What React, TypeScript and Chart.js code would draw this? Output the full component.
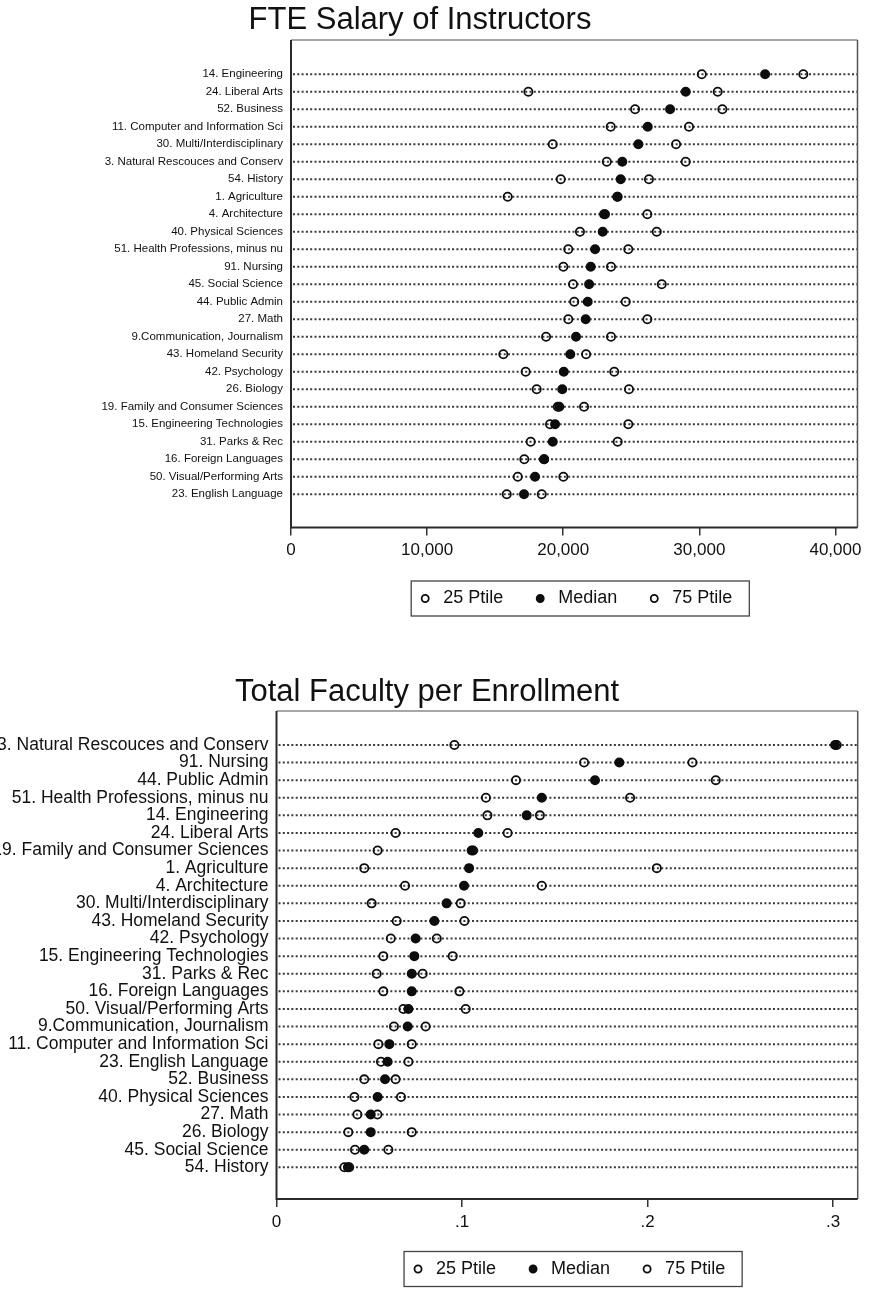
import React, { useEffect, useRef } from "react";
import { Chart, registerables } from "chart.js";

Chart.register(...registerables);

const FONT = "'Liberation Sans', Arial, Helvetica, sans-serif";

// ---------- Chart 1: FTE Salary of Instructors ----------
const salaryCategories = [
  "14. Engineering",
  "24. Liberal Arts",
  "52. Business",
  "11. Computer and Information Sci",
  "30. Multi/Interdisciplinary",
  "3. Natural Rescouces and Conserv",
  "54. History",
  "1. Agriculture",
  "4. Architecture",
  "40. Physical Sciences",
  "51. Health Professions, minus nu",
  "91. Nursing",
  "45. Social Science",
  "44. Public Admin",
  "27. Math",
  "9.Communication, Journalism",
  "43. Homeland Security",
  "42. Psychology",
  "26. Biology",
  "19. Family and Consumer Sciences",
  "15. Engineering Technologies",
  "31. Parks & Rec",
  "16. Foreign Languages",
  "50. Visual/Performing Arts",
  "23. English Language",
];
const salaryP25 = [
  30180, 17440, 25280, 23490, 19230, 23200, 19820, 15920, 23000, 21230, 20370, 20010, 20720,
  20810, 20370, 18740, 15600, 17240, 18050, 19600, 19030, 17610, 17140, 16660, 15850,
];
const salaryMedian = [
  34830, 29000, 27850, 26210, 25520, 24340, 24220, 23970, 23070, 22900, 22340, 22020, 21900,
  21800, 21650, 20940, 20520, 20040, 19930, 19710, 19400, 19230, 18590, 17930, 17120,
];
const salaryP75 = [
  37640, 31350, 31690, 29240, 28290, 29000, 26300, 24000, 26180, 26870, 24780, 23510, 27240,
  24590, 26180, 23510, 21680, 23750, 24830, 21530, 24780, 24000, 18600, 20010, 18420,
];
const salaryTickValues = [0, 10000, 20000, 30000, 40000];
const salaryTickLabels = ["0", "10,000", "20,000", "30,000", "40,000"];

// ---------- Chart 2: Total Faculty per Enrollment ----------
const facultyCategories = [
  "3. Natural Rescouces and Conserv",
  "91. Nursing",
  "44. Public Admin",
  "51. Health Professions, minus nu",
  "14. Engineering",
  "24. Liberal Arts",
  "19. Family and Consumer Sciences",
  "1. Agriculture",
  "4. Architecture",
  "30. Multi/Interdisciplinary",
  "43. Homeland Security",
  "42. Psychology",
  "15. Engineering Technologies",
  "31. Parks & Rec",
  "16. Foreign Languages",
  "50. Visual/Performing Arts",
  "9.Communication, Journalism",
  "11. Computer and Information Sci",
  "23. English Language",
  "52. Business",
  "40. Physical Sciences",
  "27. Math",
  "26. Biology",
  "45. Social Science",
  "54. History",
];
const facultyP25 = [
  0.0959, 0.1658, 0.1291, 0.1129, 0.1137, 0.0642, 0.0545, 0.0473, 0.0693, 0.0513, 0.0648,
  0.0616, 0.0576, 0.054, 0.0576, 0.0684, 0.0633, 0.0549, 0.0563, 0.0473, 0.042, 0.0436, 0.0387,
  0.0423, 0.0366,
];
const facultyMedian = [
  0.3011, 0.1848, 0.1717, 0.143, 0.1349, 0.1088, 0.1052, 0.1038, 0.1011, 0.0917, 0.0851, 0.075,
  0.0743, 0.0729, 0.0729, 0.0711, 0.0707, 0.0608, 0.0599, 0.0585, 0.0545, 0.0508, 0.0508,
  0.0473, 0.0385,
];
const facultyP75 = [
  0.302, 0.2242, 0.2368, 0.1906, 0.142, 0.1246, 0.106, 0.205, 0.143, 0.0993, 0.1013, 0.0864,
  0.095, 0.0788, 0.0986, 0.102, 0.0804, 0.0729, 0.0711, 0.0642, 0.0671, 0.0544, 0.0729, 0.0603,
  0.0392,
];
const facultyTickValues = [0, 0.1, 0.2, 0.3];
const facultyTickLabels = ["0", ".1", ".2", ".3"];

const seriesLabels = ["25 Ptile", "Median", "75 Ptile"];

type Spec = {
  title: string;
  titleX: number;
  titleY: number;
  titleSize: number;
  categories: string[];
  p25: number[];
  median: number[];
  p75: number[];
  tickValues: number[];
  tickLabels: string[];
  xMax: number;
  yMin: number;
  yMax: number;
  labelSize: number;
  width: number;
  height: number;
  padding: { left: number; right: number; top: number; bottom: number };
  yAxisWidth: number;
  xAxisHeight: number;
  dash: number[];
  dotWidth: number;
};

function buildConfig(s: Spec): any {
  const mk = (label: string, values: number[], filled: boolean, order: number) => ({
    label,
    data: values.map((v, i) => ({ x: v, y: i + 1 })),
    showLine: false,
    pointRadius: 4.1,
    pointBorderWidth: 1.8,
    pointBorderColor: "#0d0d0d",
    pointBackgroundColor: filled ? "#0d0d0d" : "rgba(0,0,0,0)",
    borderColor: "#0d0d0d",
    backgroundColor: filled ? "#0d0d0d" : "rgba(0,0,0,0)",
    borderWidth: 1.8,
    pointStyle: "circle",
    order,
  });

  const dottedLines = {
    id: "dottedLines",
    beforeDatasetsDraw(chart: any) {
      const { ctx, chartArea } = chart;
      const yScale = chart.scales.y;
      ctx.save();
      ctx.strokeStyle = "#3a3a3a";
      ctx.lineWidth = s.dotWidth;
      ctx.setLineDash(s.dash);
      s.categories.forEach((_, i) => {
        const y = yScale.getPixelForValue(i + 1);
        ctx.beginPath();
        ctx.moveTo(chartArea.left + 2, y);
        ctx.lineTo(chartArea.right, y);
        ctx.stroke();
      });
      ctx.restore();
    },
  };

  const frame = {
    id: "frame",
    afterDatasetsDraw(chart: any) {
      const { ctx, chartArea: a } = chart;
      ctx.save();
      ctx.setLineDash([]);
      ctx.lineWidth = 1.5;
      ctx.strokeStyle = "#8a8a8a";
      ctx.beginPath();
      ctx.moveTo(a.left, a.top);
      ctx.lineTo(a.right, a.top);
      ctx.stroke();
      ctx.strokeStyle = "#555";
      ctx.beginPath();
      ctx.moveTo(a.right, a.top);
      ctx.lineTo(a.right, a.bottom);
      ctx.stroke();
      ctx.lineWidth = 2;
      ctx.strokeStyle = "#2a2a2a";
      ctx.beginPath();
      ctx.moveTo(a.left, a.top);
      ctx.lineTo(a.left, a.bottom);
      ctx.lineTo(a.right, a.bottom);
      ctx.stroke();
      ctx.restore();
    },
  };

  const titlePlugin = {
    id: "stataTitle",
    afterDraw(chart: any) {
      const { ctx } = chart;
      ctx.save();
      ctx.font = `${s.titleSize}px ${FONT}`;
      ctx.fillStyle = "#111";
      ctx.textAlign = "center";
      ctx.textBaseline = "alphabetic";
      ctx.fillText(s.title, s.titleX, s.titleY);
      ctx.restore();
    },
  };

  const legendBox = {
    id: "legendBox",
    afterDraw(chart: any) {
      const lg = chart.legend;
      if (!lg || !lg.legendHitBoxes || !lg.legendHitBoxes.length) return;
      const hb = lg.legendHitBoxes;
      const first = hb[0];
      const last = hb[hb.length - 1];
      const left = first.left - 5;
      const right = last.left + last.width + 17;
      const cy = first.top + first.height / 2;
      const { ctx } = chart;
      ctx.save();
      ctx.setLineDash([]);
      ctx.lineWidth = 1.3;
      ctx.strokeStyle = "#444";
      ctx.strokeRect(left, cy - 17.5, right - left, 35);
      ctx.restore();
    },
  };

  return {
    type: "scatter",
    data: {
      datasets: [
        mk(seriesLabels[0], s.p25, false, 3),
        mk(seriesLabels[1], s.median, true, 2),
        mk(seriesLabels[2], s.p75, false, 1),
      ],
    },
    options: {
      animation: false,
      responsive: false,
      events: [],
      layout: { padding: s.padding, autoPadding: false },
      scales: {
        x: {
          type: "linear",
          min: 0,
          max: s.xMax,
          afterBuildTicks: (axis: any) => {
            axis.ticks = s.tickValues.map((v) => ({ value: v }));
          },
          afterFit: (axis: any) => {
            axis.height = s.xAxisHeight;
          },
          grid: {
            display: true,
            drawOnChartArea: false,
            drawTicks: true,
            tickLength: 8,
            color: "#333",
            lineWidth: 1.5,
          },
          border: { display: false },
          ticks: {
            autoSkip: false,
            maxRotation: 0,
            padding: 5,
            color: "#111",
            font: { size: 17, family: FONT },
            callback: (_v: any, i: number) => s.tickLabels[i],
          },
        },
        y: {
          type: "linear",
          reverse: true,
          min: s.yMin,
          max: s.yMax,
          afterBuildTicks: (axis: any) => {
            axis.ticks = s.categories.map((_, i) => ({ value: i + 1 }));
          },
          afterFit: (axis: any) => {
            axis.width = s.yAxisWidth;
          },
          grid: { display: false, drawTicks: false },
          border: { display: false },
          ticks: {
            autoSkip: false,
            padding: 8,
            color: "#111",
            font: { size: s.labelSize, family: FONT },
            callback: (v: any) => s.categories[Math.round(Number(v)) - 1] ?? "",
          },
        },
      },
      plugins: {
        title: { display: false },
        tooltip: { enabled: false },
        legend: {
          display: true,
          position: "bottom",
          fullSize: false,
          align: "center",
          labels: {
            usePointStyle: true,
            boxWidth: 18,
            boxHeight: 5,
            padding: 28,
            color: "#111",
            font: { size: 18, family: FONT },
            sort: (a: any, b: any) => a.datasetIndex - b.datasetIndex,
          },
        },
      },
    },
    plugins: [dottedLines, frame, titlePlugin, legendBox],
  };
}

function DotChart({ spec, top }: { spec: Spec; top: number }) {
  const ref = useRef<HTMLCanvasElement | null>(null);
  useEffect(() => {
    if (!ref.current) return;
    const chart = new Chart(ref.current, buildConfig(spec));
    return () => chart.destroy();
  }, [spec]);
  return (
    <div style={{ position: "absolute", left: 0, top, width: spec.width, height: spec.height }}>
      <canvas
        ref={ref}
        width={spec.width}
        height={spec.height}
        style={{ width: spec.width, height: spec.height, display: "block" }}
      />
    </div>
  );
}

const salarySpec: Spec = {
  title: "FTE Salary of Instructors",
  titleX: 420,
  titleY: 29,
  titleSize: 31,
  categories: salaryCategories,
  p25: salaryP25,
  median: salaryMedian,
  p75: salaryP75,
  tickValues: salaryTickValues,
  tickLabels: salaryTickLabels,
  xMax: 41620,
  yMin: 1 - 1.96,
  yMax: 25 + 1.9,
  labelSize: 11.5,
  width: 873,
  height: 640,
  padding: { left: 0, right: 15.5, top: 40, bottom: 22.5 },
  yAxisWidth: 291,
  xAxisHeight: 34,
  dash: [2, 2.3],
  dotWidth: 2,
};

const facultySpec: Spec = {
  title: "Total Faculty per Enrollment",
  titleX: 427,
  titleY: 61,
  titleSize: 31,
  categories: facultyCategories,
  p25: facultyP25,
  median: facultyMedian,
  p75: facultyP75,
  tickValues: facultyTickValues,
  tickLabels: facultyTickLabels,
  xMax: 0.3133,
  yMin: 1 - 1.93,
  yMax: 25 + 1.8,
  labelSize: 17.5,
  width: 873,
  height: 649,
  padding: { left: 0, right: 15.3, top: 71, bottom: 1 },
  yAxisWidth: 276.5,
  xAxisHeight: 33,
  dash: [2, 2.3],
  dotWidth: 2,
};

export default function App() {
  return (
    <div
      style={{
        position: "absolute",
        left: 0,
        top: 0,
        width: 873,
        height: 1289,
        overflow: "hidden",
        background: "#fff",
      }}
    >
      <DotChart spec={salarySpec} top={0} />
      <DotChart spec={facultySpec} top={640} />
    </div>
  );
}
